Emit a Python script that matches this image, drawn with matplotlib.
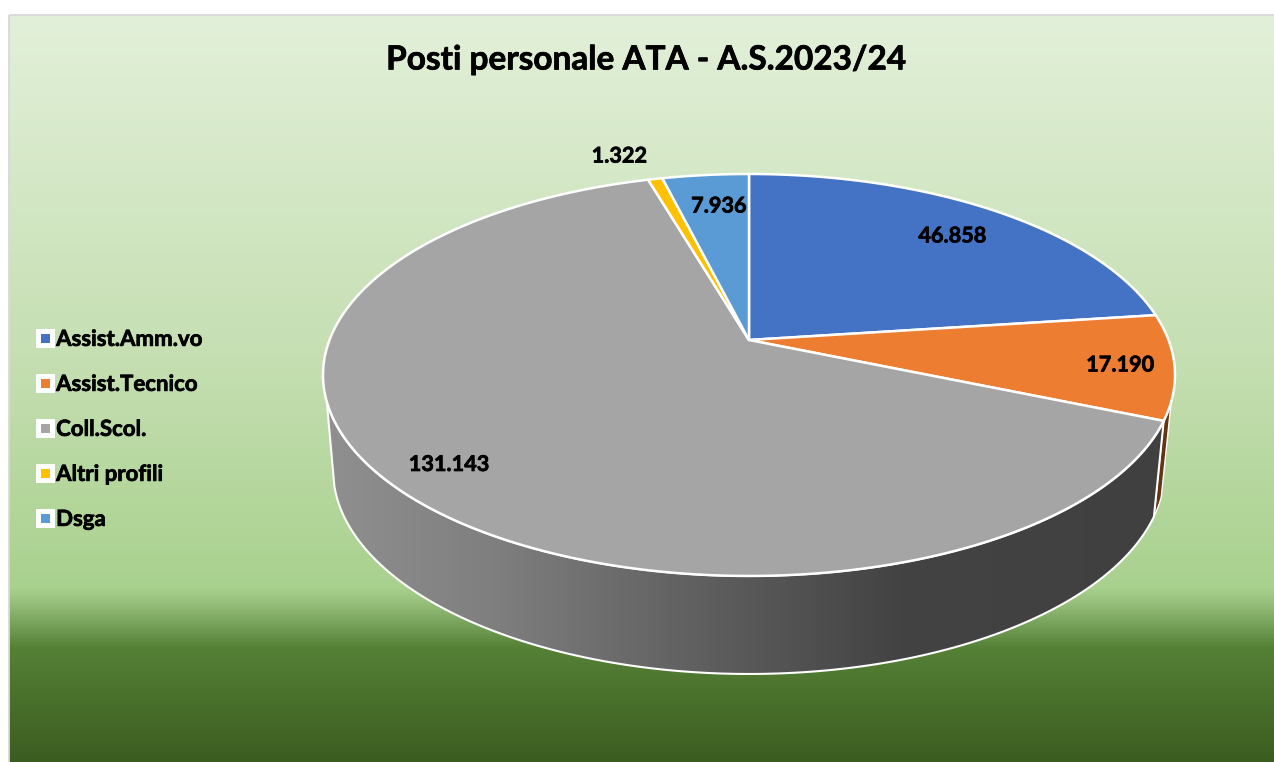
import numpy as np
import matplotlib
matplotlib.use("Agg")
import matplotlib.pyplot as plt
import matplotlib.patheffects as pe
from matplotlib.colors import to_rgb
from matplotlib.lines import Line2D
from matplotlib.patches import Polygon, Rectangle

title = "Posti personale ATA - A.S.2023/24"
categories = ["Assist.Amm.vo", "Assist.Tecnico", "Coll.Scol.", "Altri profili", "Dsga"]
values = [46858, 17190, 131143, 1322, 7936]
value_labels = ["46.858", "17.190", "131.143", "1.322", "7.936"]
colors = ["#4472c4", "#ed7d31", "#a5a5a5", "#ffc000", "#5b9bd5"]

W, H = 1274, 762
plt.rcParams["font.family"] = ["Lato", "DejaVu Sans"]

# perspective of the pie: top face and bottom face
k = 0.174
top_face = (749, 340, 419.5, 194.9)
bottom_face = (749, 434.5, 409.6, 197.8)
silhouette = np.degrees(np.arcsin(0.3))  # where the side wall stops being visible
bold = [pe.withStroke(linewidth=0.5, foreground="black")]


def project(angle, face, r=1.0):
    # angle in degrees, counter clockwise from 3 o'clock
    x0, y0, a, b = face
    u = r * np.cos(np.radians(angle))
    v = r * np.sin(np.radians(angle))
    return x0 + a * u / (1 + k * v), y0 - b * v / (1 + k * v)


def wall_points(start, end, bottom_end=None):
    t = np.linspace(start, end, 200)
    xt, yt = project(t, top_face)
    t2 = np.linspace(start, end if bottom_end is None else bottom_end, 200)
    xb, yb = project(t2[::-1], bottom_face)
    return np.column_stack([np.r_[xt, xb], np.r_[yt, yb]])


def gradient(stops, n=800):
    pos = [s[0] for s in stops]
    rgb = np.array([to_rgb(s[1]) for s in stops])
    t = np.linspace(pos[0], pos[-1], n)
    return np.column_stack([np.interp(t, pos, rgb[:, i]) for i in range(3)])


fig = plt.figure(figsize=(W / 100, H / 100), dpi=100, facecolor="white")
ax = fig.add_axes([0, 0, 1, 1])

# background
bg = gradient([(15, "#e2f0d9"), (350, "#c6dfb3"), (588, "#a9d18e"),
               (605, "#93bd78"), (648, "#558136"), (762, "#3c5c20")])
ax.imshow(bg[:, None, :], extent=(9, W, H, 15), aspect="auto", zorder=0)
ax.add_patch(Rectangle((9, 15), W, H, fill=False, ec="#d9d9d9", lw=1.3, zorder=1))

# slice angles, clockwise from 12 o'clock
fractions = np.array(values) / sum(values)
edges = 90 - 360 * np.r_[0, np.cumsum(fractions)]

# side walls
orange_wall = Polygon(wall_points(-silhouette, edges[2]), fc="#643413", ec="white", lw=1.0, zorder=2)
ax.add_patch(orange_wall)
grey_pts = wall_points(edges[2], -180 + silhouette, -180 + 14.5)
grey_wall = Polygon(grey_pts, fc="none", ec="white", lw=1.5, zorder=3)
ax.add_patch(grey_wall)
shade = gradient([(323, "#909090"), (500, "#7e7e7e"), (620, "#6b6b6b"), (750, "#585858"),
                  (900, "#434343"), (1175, "#404040")])
im = ax.imshow(shade[None, :, :], extent=(323, 1175, 680, 370), aspect="auto", zorder=2.5)
im.set_clip_path(Polygon(grey_pts, transform=ax.transData))

# top face
for i, c in enumerate(colors):
    t = np.linspace(edges[i], edges[i + 1], 200)
    xs, ys = project(t, top_face)
    pts = np.column_stack([np.r_[top_face[0], xs], np.r_[top_face[1], ys]])
    ax.add_patch(Polygon(pts, fc=c, ec="white", lw=1.8, joinstyle="round", zorder=4))

# value labels
label_r = [0.795, 0.874, 0.863, 1.188, 0.785]
label_shift = [-1, -0.6, 0, 3, -1]
mids = (edges[:-1] + edges[1:]) / 2
for i, txt in enumerate(value_labels):
    lx, ly = project(mids[i] + label_shift[i], top_face, label_r[i])
    ax.text(lx, ly, txt, fontsize=15.6, fontweight="bold", color="black",
            ha="center", va="center", zorder=5, path_effects=bold)

ax.text(646, 60, title, fontsize=24, fontweight="bold", color="black",
        ha="center", va="center", zorder=5, path_effects=bold)

handles = [Line2D([], [], ls="none", marker="s", ms=9.4, mew=3.6, mfc=c, mec="white") for c in colors]
leg = ax.legend(handles, categories, loc="upper left", bbox_to_anchor=(25, 320),
                bbox_transform=ax.transData, frameon=False, prop={"size": 16, "weight": "bold"},
                labelspacing=1.08, handlelength=1.0, handletextpad=0.0, borderpad=0.4, borderaxespad=0)
for t in leg.get_texts():
    t.set_path_effects(bold)

ax.set_xlim(0, W)
ax.set_ylim(H, 0)
ax.axis("off")

fig.savefig("out.png", dpi=100)
